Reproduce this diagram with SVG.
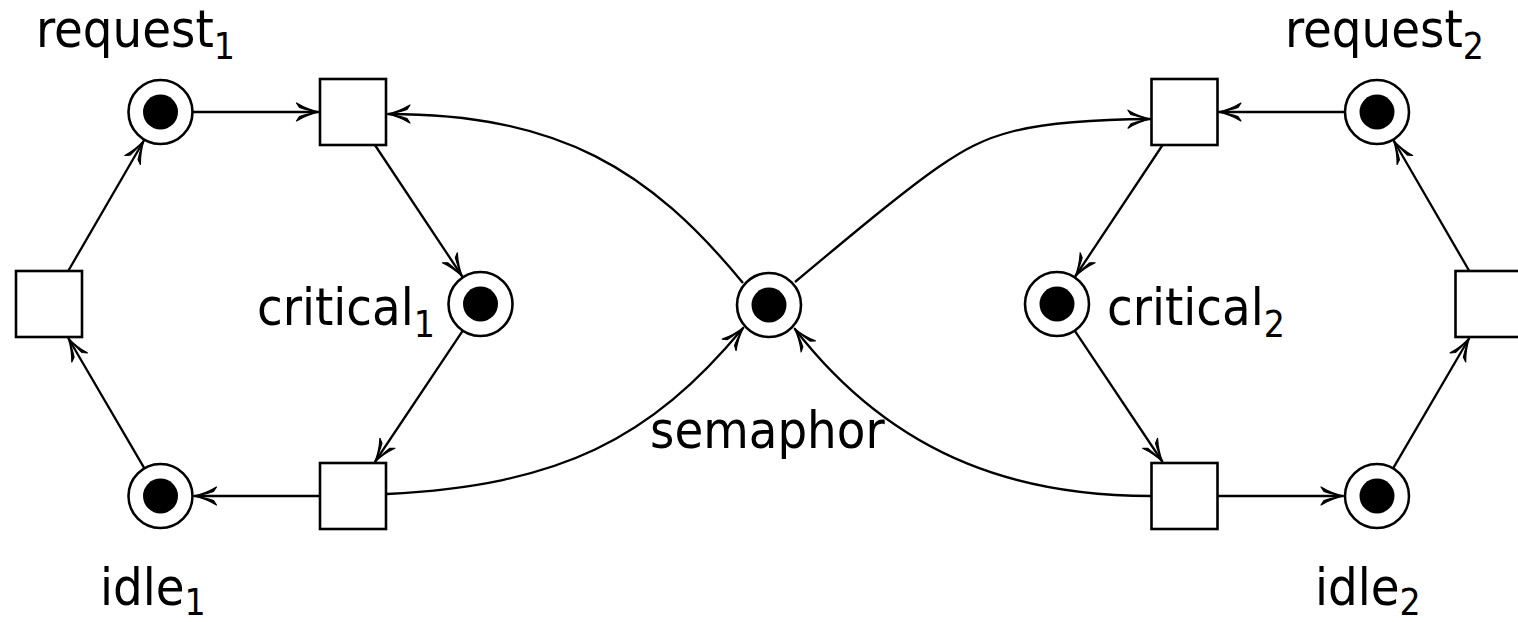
<svg xmlns="http://www.w3.org/2000/svg" width="1518" height="622" viewBox="0 0 1518 622">
<style>
  .place { fill: #fff; stroke: #000; stroke-width: 2.6; }
  .token { fill: #000; }
  .trans { fill: #fff; stroke: #000; stroke-width: 2.6; }
  .arc { fill: none; stroke: #000; stroke-width: 2.3; marker-end: url(#arr); }
  .lbl { font-family: "DejaVu Sans Condensed", "DejaVu Sans", sans-serif; font-stretch: condensed; font-size: 52px; fill: #000; }
  .sub { font-size: 37px; }
</style>
<defs>
  <marker id="arr" viewBox="-26 -12 28 24" refX="0" refY="0" markerWidth="28" markerHeight="24" markerUnits="userSpaceOnUse" orient="auto">
    <path d="M0.5,0 C-7,-1.5 -15,-4.5 -22.5,-9 L-19.5,-4.6 C-13,-2.4 -7,-1.3 -3,0 C-7,1.3 -13,2.4 -19.5,4.6 L-22.5,9 C-15,4.5 -7,1.5 0.5,0 Z" fill="#000" stroke="#000" stroke-width="1.2" stroke-linejoin="round"/>
  </marker>
</defs>
<rect width="1518" height="622" fill="#fff"/>
<g id="connectors">
  <path class="arc" d="M192.5,112 L319,112"/>
  <path class="arc" d="M374.9,145 L462.3,276.5"/>
  <path class="arc" d="M462.8,330.7 L374.9,462"/>
  <path class="arc" d="M320,496 L194,496"/>
  <path class="arc" d="M144.4,468.3 L68.2,338"/>
  <path class="arc" d="M68.2,271 L143.9,140.5"/>
  <path class="arc" d="M1345,112 L1218.5,112"/>
  <path class="arc" d="M1162.6,145 L1075.2,276.5"/>
  <path class="arc" d="M1074.7,330.7 L1162.6,462"/>
  <path class="arc" d="M1217.5,496 L1343.5,496"/>
  <path class="arc" d="M1393.1,468.3 L1469.3,338"/>
  <path class="arc" d="M1469.3,271 L1393.6,140.5"/>
  <path class="arc" d="M743,283 C650,170 560,114 387.5,114"/>
  <path class="arc" d="M387,494 C560,485 650,440 743.5,327.5"/>
  <path class="arc" d="M795,282 C850,236 905,190 940,166 C985,135 1020,120 1150.5,119"/>
  <path class="arc" d="M1151,496 C1030,496 900,465 794.5,328.5"/>
</g>
<g id="request1"><circle class="place" cx="160.5" cy="112" r="32"/><circle class="token" cx="160.5" cy="112" r="17.5"/></g>
<g id="critical1"><circle class="place" cx="480.5" cy="304" r="32"/><circle class="token" cx="480.5" cy="304" r="17.5"/></g>
<g id="idle1"><circle class="place" cx="160.5" cy="496" r="32"/><circle class="token" cx="160.5" cy="496" r="17.5"/></g>
<g id="semaphor"><circle class="place" cx="769" cy="305" r="32"/><circle class="token" cx="769" cy="305" r="17.5"/></g>
<g id="request2"><circle class="place" cx="1377" cy="112" r="32"/><circle class="token" cx="1377" cy="112" r="17.5"/></g>
<g id="critical2"><circle class="place" cx="1057" cy="304" r="32"/><circle class="token" cx="1057" cy="304" r="17.5"/></g>
<g id="idle2"><circle class="place" cx="1377" cy="496" r="32"/><circle class="token" cx="1377" cy="496" r="17.5"/></g>
<g id="t_enter1"><rect class="trans" x="320" y="79" width="66" height="66"/></g>
<g id="t_exit1"><rect class="trans" x="320" y="463" width="66" height="66"/></g>
<g id="t_req1"><rect class="trans" x="16" y="271" width="66" height="66"/></g>
<g id="t_enter2"><rect class="trans" x="1151.5" y="79" width="66" height="66"/></g>
<g id="t_exit2"><rect class="trans" x="1151.5" y="463" width="66" height="66"/></g>
<g id="t_req2"><rect class="trans" x="1455.5" y="271" width="66" height="66"/></g>
<g id="labels">
  <text class="lbl" x="36" y="47">request<tspan class="sub" dy="12">1</tspan></text>
  <text class="lbl" x="1285" y="47">request<tspan class="sub" dy="12">2</tspan></text>
  <text class="lbl" x="257" y="325">critical<tspan class="sub" dy="12">1</tspan></text>
  <text class="lbl" x="1107" y="325">critical<tspan class="sub" dy="12">2</tspan></text>
  <text class="lbl" x="100" y="605">idle<tspan class="sub" dy="10">1</tspan></text>
  <text class="lbl" x="1315" y="605">idle<tspan class="sub" dy="10">2</tspan></text>
  <text class="lbl" x="650" y="448">semaphor</text>
</g>
</svg>
